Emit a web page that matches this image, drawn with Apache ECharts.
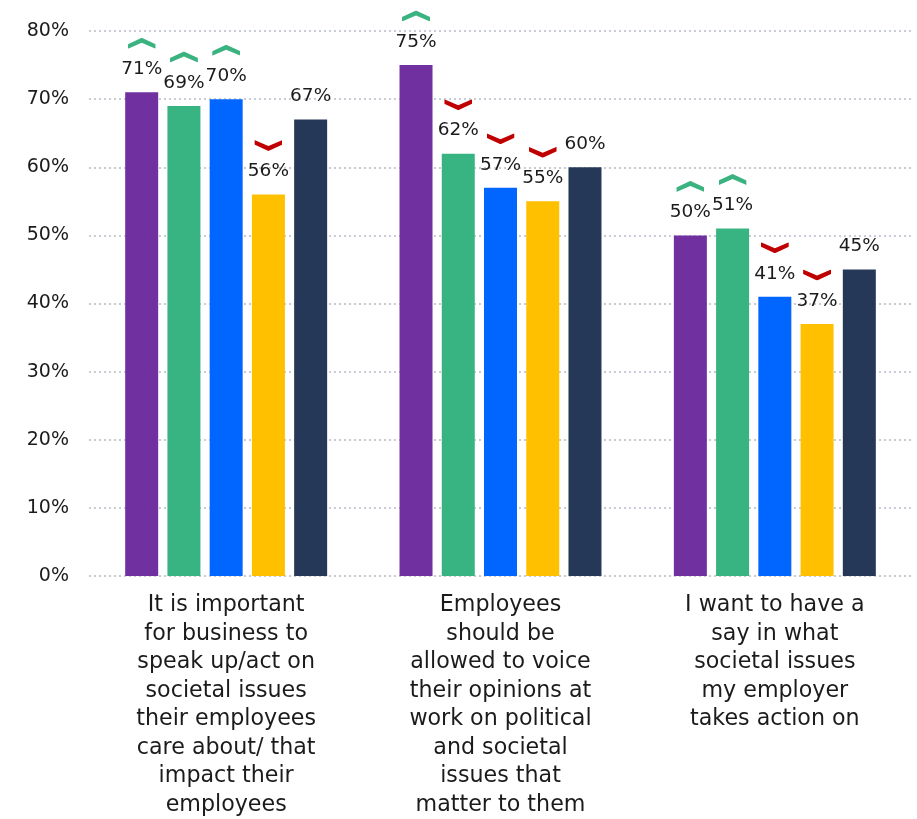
<!DOCTYPE html>
<html>
<head>
<meta charset="utf-8">
<script src="https://cdn.jsdelivr.net/npm/echarts@6/dist/echarts.min.js"></script>
<style>
  html, body { margin: 0; padding: 0; background: #ffffff; }
  #chart { width: 917px; height: 819px; }
</style>
</head>
<body>
<div id="chart"></div>
<script>
// Survey statements (x-axis categories)
const categories = [
  'It is important\nfor business to\nspeak up/act on\nsocietal issues\ntheir employees\ncare about/ that\nimpact their\nemployees',
  'Employees\nshould be\nallowed to voice\ntheir opinions at\nwork on political\nand societal\nissues that\nmatter to them',
  'I want to have a\nsay in what\nsocietal issues\nmy employer\ntakes action on'
];

// Share agreeing (%) per respondent group
const purpleValues = [71, 75, 50];
const greenValues  = [69, 62, 51];
const blueValues   = [70, 57, 41];
const yellowValues = [56, 55, 37];
const navyValues   = [67, 60, 45];

// Direction markers drawn above each value label
const purpleTrend = ['up', 'up', 'up'];
const greenTrend  = ['up', 'down', 'up'];
const blueTrend   = ['up', 'down', 'down'];
const yellowTrend = ['down', 'down', 'down'];
const navyTrend   = [null, null, null];

// Y-axis ticks
const yTicks = [0, 10, 20, 30, 40, 50, 60, 70, 80];

const FONT = '"DejaVu Sans"';
const TEXT = '#1b1b1b';

// Thick chevron drawn as a filled polygon with flat ends
function chevron(dir, color) {
  const pts = dir === 'up'
    ? '0,6.5 14,0 28,6.5 28,11 14,5 0,11'
    : '0,0 14,6 28,0 28,4.5 14,11 0,4.5';
  const svg = '<svg xmlns="http://www.w3.org/2000/svg" width="28" height="11" viewBox="0 0 28 11">' +
    '<polygon points="' + pts + '" fill="' + color + '"/></svg>';
  return 'data:image/svg+xml;charset=utf-8,' + encodeURIComponent(svg);
}
const upImg = chevron('up', '#3bb381');
const downImg = chevron('down', '#c00000');

function makeSeries(name, values, trend, color) {
  return {
    name: name,
    type: 'bar',
    data: values,
    barWidth: 33,
    barGap: '28%',
    itemStyle: { color: color },
    label: {
      show: true,
      position: 'top',
      distance: 13,
      formatter: function (p) {
        const t = trend[p.dataIndex];
        const v = '{val|' + p.value + '%}';
        if (t === 'up') return '{up| }\n' + v;
        if (t === 'down') return '{down| }\n' + v;
        return v;
      },
      rich: {
        val: { fontFamily: FONT, fontSize: 18.5, color: TEXT, lineHeight: 20 },
        up: { width: 28, height: 11, lineHeight: 32, backgroundColor: { image: upImg } },
        down: { width: 28, height: 11, lineHeight: 32, backgroundColor: { image: downImg } }
      }
    }
  };
}

const chart = echarts.init(document.getElementById('chart'), null, { renderer: 'canvas' });
chart.setOption({
  animation: false,
  backgroundColor: '#ffffff',
  grid: { left: 89, right: 5, top: 31, bottom: 243, containLabel: false },
  xAxis: {
    type: 'category',
    data: categories,
    axisLine: { show: false },
    axisTick: { show: false },
    axisLabel: {
      interval: 0,
      margin: 15,
      fontFamily: FONT,
      fontSize: 22.2,
      lineHeight: 28.5,
      color: TEXT,
      align: 'center',
      verticalAlign: 'top'
    }
  },
  yAxis: {
    type: 'value',
    min: yTicks[0],
    max: yTicks[yTicks.length - 1],
    interval: yTicks[1] - yTicks[0],
    axisLine: { show: false },
    axisTick: { show: false },
    axisLabel: {
      margin: 20,
      fontFamily: FONT,
      fontSize: 19,
      color: TEXT,
      formatter: '{value}%'
    },
    splitLine: {
      show: true,
      lineStyle: { color: '#b5bcc8', width: 1.5, type: [2, 3] }
    }
  },
  series: [
    makeSeries('Group A', purpleValues, purpleTrend, '#7030a0'),
    makeSeries('Group B', greenValues, greenTrend, '#38b382'),
    makeSeries('Group C', blueValues, blueTrend, '#0066ff'),
    makeSeries('Group D', yellowValues, yellowTrend, '#ffc000'),
    makeSeries('Group E', navyValues, navyTrend, '#253858')
  ]
});
</script>
</body>
</html>
